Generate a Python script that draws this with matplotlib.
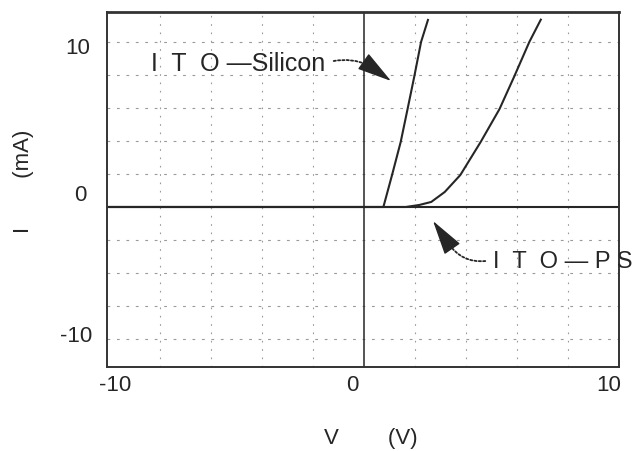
import matplotlib
matplotlib.use("Agg")
import matplotlib.pyplot as plt
from matplotlib.transforms import ScaledTranslation
import numpy as np

plt.rcParams['font.family'] = ['Liberation Sans', 'DejaVu Sans']

# I-V characteristics (V in volts, I in mA)
V_SI = [-10.0, 0.75, 1.09, 1.43, 1.70, 1.96, 2.23, 2.50]
I_SI = [0.0, 0.0, 2.21, 4.50, 6.78, 9.00, 11.42, 12.94]

V_PS = [-10.0, 1.63, 2.16, 2.63, 3.16, 3.77, 4.57, 5.31, 5.88, 6.48, 6.93]
I_PS = [0.0, 0.0, 0.14, 0.35, 1.04, 2.21, 4.50, 6.78, 9.00, 11.42, 12.96]

X_TICKS = [-10, 0, 10]
Y_TICKS = [-10, 0, 10]
X_TICK_LABELS = ['-10', '0', '10']
Y_TICK_LABELS = ['-10', '0', '10']

LABEL_SI = "I  T  O \u2014Silicon"
LABEL_PS = "I  T  O \u2014 P S"

INK = '#262626'
GRID = '#9a9a9a'

fig = plt.figure(figsize=(6.32, 4.52), dpi=100)
ax = fig.add_axes([107 / 632, 84 / 452, 512 / 632, 355 / 452])
ax.set_xlim(-10.1, 9.9)
ax.set_ylim(-11.07, 13.49)

# graticule
for v in np.arange(-8, 9, 2):
    if v != 0:
        ax.axvline(v, color=GRID, lw=0.8, ls=(0, (1.5, 6)), zorder=1)
grid_step = 2.284
for k in range(-4, 6):
    if k != 0:
        ax.axhline(k * grid_step, color=GRID, lw=0.8, ls=(0, (2.5, 6)), zorder=1)

# zero axes
ax.axhline(0, color=INK, lw=1.5, zorder=2)
ax.axvline(0, color=INK, lw=1.1, zorder=2)

# curves
ax.plot(V_SI, I_SI, color=INK, lw=1.5, zorder=3)
ax.plot(V_PS, I_PS, color=INK, lw=1.5, zorder=3)

# frame
for s in ax.spines.values():
    s.set_color('#333333')
    s.set_linewidth(1.4)
ax.spines['top'].set_linewidth(2.0)

# ticks
ax.set_xticks(X_TICKS)
ax.set_xticklabels(X_TICK_LABELS)
ax.set_yticks(Y_TICKS)
ax.set_yticklabels(Y_TICK_LABELS)
ax.tick_params(length=0, labelsize=16, labelcolor=INK)
ax.tick_params(axis='x', pad=5)
ax.tick_params(axis='y', pad=12)

x_shift = [(6, 0), (-12, 0), (-10, 0)]
y_shift = [(2, 19), (-4, 15), (0, 17)]
for lab, (dx, dy) in zip(ax.get_xticklabels(), x_shift):
    lab.set_transform(lab.get_transform() + ScaledTranslation(dx / 100, dy / 100, fig.dpi_scale_trans))
for lab, (dx, dy) in zip(ax.get_yticklabels(), y_shift):
    lab.set_transform(lab.get_transform() + ScaledTranslation(dx / 100, dy / 100, fig.dpi_scale_trans))

# axis titles
ax.set_xlabel("V        (V)", fontsize=16, color=INK)
ax.xaxis.set_label_coords(0.516, -0.2)
ax.xaxis.label.set_va('center')
ax.set_ylabel("I        (mA)", fontsize=16, color=INK)
ax.yaxis.set_label_coords(-0.164, 0.525)
ax.yaxis.label.set_va('center')

# callouts
ax.text(-8.36, 9.97, LABEL_SI, fontsize=18, color=INK, ha='left', va='center', zorder=4)
ax.annotate("", xy=(0.16, 9.83), xytext=(-1.2, 10.1),
            arrowprops=dict(arrowstyle='-', color=INK, lw=1.3, ls=(0, (1.2, 1.2)),
                            connectionstyle='arc3,rad=-0.15', shrinkA=0, shrinkB=0))
ax.annotate("", xy=(1.05, 8.72), xytext=(0.16, 9.83),
            arrowprops=dict(arrowstyle='-|>,head_length=1.1,head_width=0.3', color=INK, lw=1.0,
                            shrinkA=0, shrinkB=0, mutation_scale=20))

ax.text(5.04, -3.74, LABEL_PS, fontsize=17, color=INK, ha='left', va='center', zorder=4)
ax.annotate("", xy=(3.3, -2.5), xytext=(4.75, -3.74),
            arrowprops=dict(arrowstyle='-', color=INK, lw=1.3, ls=(0, (1.2, 1.2)),
                            connectionstyle='arc3,rad=-0.3', shrinkA=0, shrinkB=0))
ax.annotate("", xy=(2.70, -0.97), xytext=(3.3, -2.5),
            arrowprops=dict(arrowstyle='-|>,head_length=1.1,head_width=0.3', color=INK, lw=1.0,
                            shrinkA=0, shrinkB=0, mutation_scale=20))

fig.savefig("out.png", dpi=100)
